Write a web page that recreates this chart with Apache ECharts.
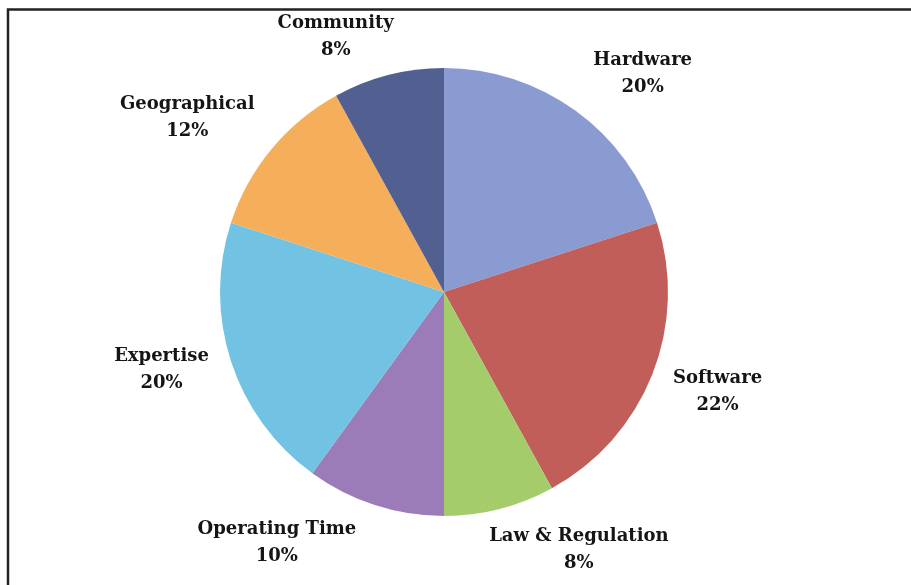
<!DOCTYPE html>
<html><head><meta charset="utf-8">
<script src="https://cdn.jsdelivr.net/npm/echarts@6/dist/echarts.min.js"></script>
<style>html,body{margin:0;padding:0;background:#fff}#c{width:911px;height:585px}</style>
</head><body><div id="c"></div>
<script>
const categories = ['Hardware', 'Software', 'Law & Regulation', 'Operating Time', 'Expertise', 'Geographical', 'Community'];
const values = [20, 22, 8, 10, 20, 12, 8];
const colors = ['#8A9BD2', '#C25E5A', '#A5CC6B', '#9B7BB8', '#72C3E3', '#F5AF5B', '#525F91'];

// layout-only: small label nudges (px) applied after the automatic outside placement
const labelNudgeX = [7, 4, -15, -13, -5, -3, 10];
const labelNudgeY = [-1, 1, -3, 3, 3, 5, 6];

const CX = 444, CY = 292, R = 224, LABEL_GAP = 18;
const total = values.reduce((a, b) => a + b, 0);
const midAngles = [];
{ let acc = 0; values.forEach(v => { midAngles.push((acc + v / 2) / total * 2 * Math.PI); acc += v; }); }

const chart = echarts.init(document.getElementById('c'), null, {renderer: 'canvas'});
chart.setOption({
  animation: false,
  backgroundColor: '#fff',
  graphic: [{
    type: 'rect', silent: true,
    shape: {x: 8, y: 9.5, width: 1200, height: 1200},
    style: {fill: 'none', stroke: '#222', lineWidth: 2.5}
  }],
  series: [{
    type: 'pie',
    center: [CX, CY],
    radius: R,
    startAngle: 90,
    clockwise: true,
    avoidLabelOverlap: false,
    data: categories.map((n, i) => ({name: n, value: values[i], itemStyle: {color: colors[i]}})),
    label: {
      show: true, position: 'outside',
      formatter: p => p.name + '\n' + p.value + '%',
      fontFamily: 'DejaVu Serif', fontWeight: 'bold', fontSize: 18, lineHeight: 27,
      color: '#151515', align: 'center'
    },
    labelLine: {show: false},
    labelLayout: function (p) {
      const i = p.dataIndex, t = midAngles[i];
      const s = Math.sin(t), c = Math.cos(t);
      const px = CX + (R + LABEL_GAP) * s, py = CY - (R + LABEL_GAP) * c;
      const w = p.labelRect.width, h = p.labelRect.height;
      const sx = Math.abs(s) > 0.15 ? Math.sign(s) : 0;
      const sy = s < 0 ? -c - 0.3 : -c;
      return {
        x: px + sx * w / 2 + labelNudgeX[i],
        y: py + Math.max(-1, sy) * h / 2 + labelNudgeY[i],
        align: 'center', verticalAlign: 'middle'
      };
    }
  }]
});
</script></body></html>
